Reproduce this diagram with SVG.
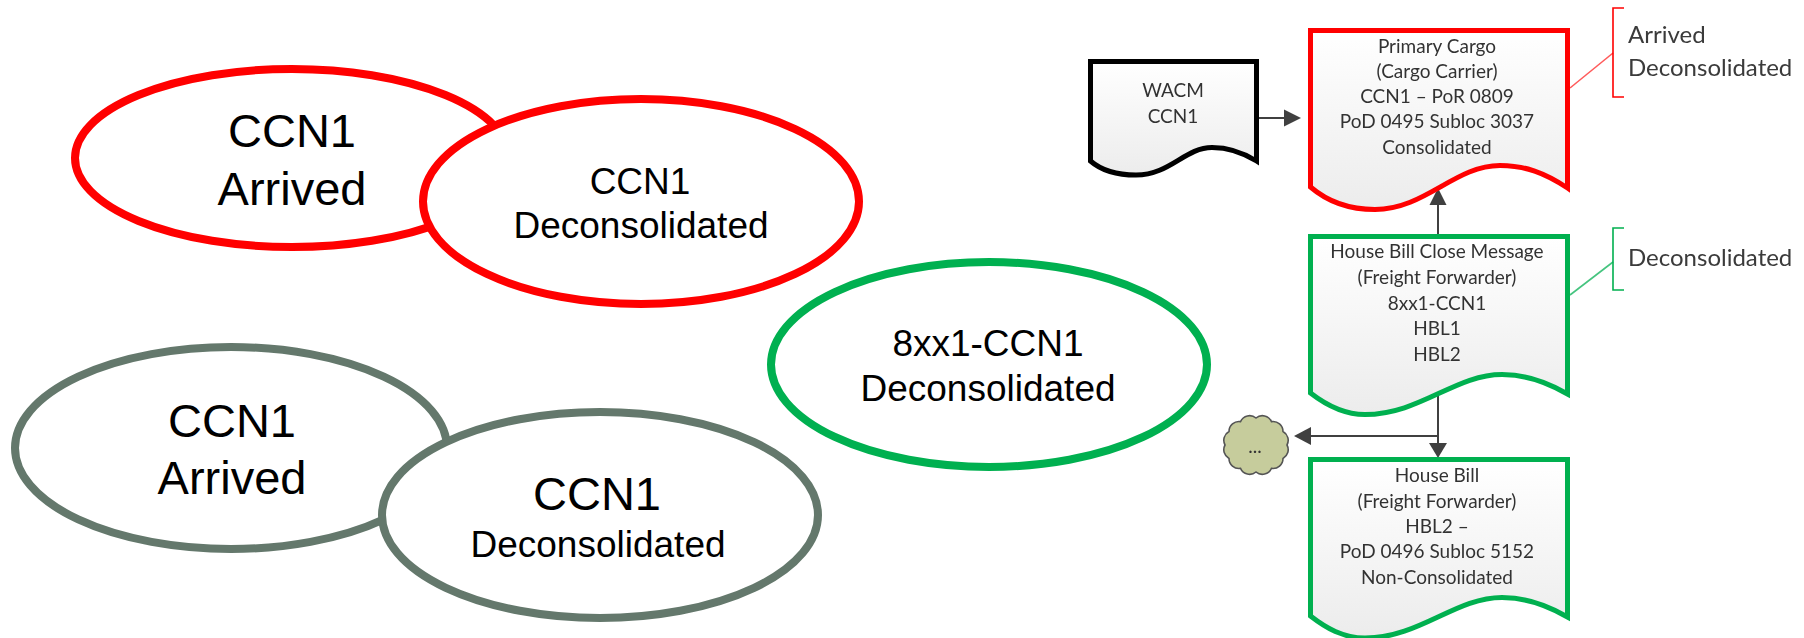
<svg xmlns="http://www.w3.org/2000/svg" width="1804" height="638" viewBox="0 0 1804 638">
<style>
.el{fill:#fff;stroke-width:8}
.big{font:47px "Liberation Sans",Arial,sans-serif;fill:#000;text-anchor:middle}
.mid{font:37px "Liberation Sans",Arial,sans-serif;fill:#000;text-anchor:middle}
.doc{fill:url(#docfill);stroke-width:5;stroke-linejoin:miter}
.dt{font:19px Lato,"Open Sans",sans-serif;fill:#333;text-anchor:middle}
.lab{font:24px Lato,"Open Sans",sans-serif;fill:#3a3a3a}
.red{stroke:#ff0000}.green{stroke:#00b050}.grey{stroke:#64786c}.black{stroke:#000}
.con{fill:none;stroke:#404040;stroke-width:2}
.head{fill:#404040;stroke:none}
.br{fill:none;stroke-width:1.6}
</style>
<defs>
<linearGradient id="docfill" x1="0" y1="0" x2="0" y2="1"><stop offset="0" stop-color="#ffffff"/><stop offset="1" stop-color="#ececec"/></linearGradient>
<filter id="soft" x="-5%" y="-5%" width="110%" height="110%"><feGaussianBlur stdDeviation="0.45"/></filter>
</defs>
<rect width="1804" height="638" fill="#fff"/>
<g id="red-arrived"><ellipse class="el red" cx="292" cy="158" rx="217" ry="89"/><text class="big" x="292" y="147">CCN1</text><text class="big" x="292" y="205">Arrived</text></g>
<g id="red-deconsolidated"><ellipse class="el red" cx="641" cy="201.500" rx="218" ry="102.500"/><text class="mid" x="640" y="194">CCN1</text><text class="mid" x="641" y="238">Deconsolidated</text></g>
<g id="grey-arrived"><ellipse class="el grey" cx="231" cy="448" rx="216" ry="101"/><text class="big" x="232" y="437">CCN1</text><text class="big" x="232" y="494">Arrived</text></g>
<g id="grey-deconsolidated"><ellipse class="el grey" cx="600" cy="515" rx="218" ry="103"/><text class="big" x="597" y="510">CCN1</text><text class="mid" x="598" y="557">Deconsolidated</text></g>
<g id="green-deconsolidated"><ellipse class="el green" cx="989" cy="364.500" rx="218" ry="102.500"/><text class="mid" x="988" y="356">8xx1-CCN1</text><text class="mid" x="988" y="401">Deconsolidated</text></g>
<g filter="url(#soft)">
<g id="connectors">
<path class="con" d="M1259 118H1286"/><path class="head" d="M1301 118L1284 109.500V126.500Z"/>
<path class="con" d="M1438 234V202"/><path class="head" d="M1438 188L1429.500 205H1446.500Z"/>
<path class="con" d="M1438 394V445"/><path class="head" d="M1438 458L1429 443H1447Z"/>
<path class="con" d="M1438 436H1309"/><path class="head" d="M1294 436L1311 427V445Z"/>
<path class="br" stroke="#ff5a5a" d="M1570 88L1613 53"/>
<path class="br" stroke="#45c47f" d="M1570 295L1613 262"/>
</g>
<g id="wacm"><path class="doc black" d="M1090.500 61.500H1256.500V161C1242 152 1228 147.500 1212 147.500C1185 147.500 1170 175 1136 175C1118 175 1102 171 1090.500 161Z"/><text class="dt" x="1173" y="97">WACM</text><text class="dt" x="1173" y="123">CCN1</text></g>
<g id="primary-cargo"><path class="doc red" d="M1310.500 30.500H1567.500V188C1545 173 1525 165.500 1500 165.500C1455 165.500 1425 209.500 1375 209.500C1350 209.500 1328 202 1310.500 187Z"/><text class="dt" x="1437" y="53">Primary Cargo</text><text class="dt" x="1437" y="78">(Cargo Carrier)</text><text class="dt" x="1437" y="103">CCN1 – PoR 0809</text><text class="dt" x="1437" y="128">PoD 0495 Subloc 3037</text><text class="dt" x="1437" y="154">Consolidated</text></g>
<g id="house-bill-close"><path class="doc green" d="M1310.500 236.500H1567.500V394C1545 381 1525 374.500 1502 374.500C1455 374.500 1420 414.500 1365 414.500C1343 414.500 1326 405 1310.500 393Z"/><text class="dt" x="1437" y="258">House Bill Close Message</text><text class="dt" x="1437" y="284">(Freight Forwarder)</text><text class="dt" x="1437" y="310">8xx1-CCN1</text><text class="dt" x="1437" y="335">HBL1</text><text class="dt" x="1437" y="361">HBL2</text></g>
<g id="house-bill"><path class="doc green" d="M1310.500 459.500H1567.500V617C1545 604 1525 597.500 1502 597.500C1455 597.500 1420 638 1365 638C1343 638 1326 628 1310.500 616Z"/><text class="dt" x="1437" y="482">House Bill</text><text class="dt" x="1437" y="508">(Freight Forwarder)</text><text class="dt" x="1437" y="533">HBL2 –</text><text class="dt" x="1437" y="558">PoD 0496 Subloc 5152</text><text class="dt" x="1437" y="584">Non-Consolidated</text></g>
<g id="cloud"><path fill="#c6cc9c" stroke="#555" stroke-width="1.6" d="M1287 445A10 10 0 0 1 1283 458.500A10 10 0 0 1 1271.500 468.400A10 10 0 0 1 1256 472A10 10 0 0 1 1240.500 468.400A10 10 0 0 1 1229 458.500A10 10 0 0 1 1225 445A10 10 0 0 1 1229 431.500A10 10 0 0 1 1240.500 421.600A10 10 0 0 1 1256 418A10 10 0 0 1 1271.500 421.600A10 10 0 0 1 1283 431.500A10 10 0 0 1 1287 445Z"/><text class="dt" x="1255" y="453">...</text></g>
<g id="note-red"><path class="br red" d="M1624 8H1613V97H1624"/><text class="lab" x="1628" y="43">Arrived</text><text class="lab" x="1628" y="76">Deconsolidated</text></g>
<g id="note-green"><path class="br green" d="M1624 228H1613V290H1624"/><text class="lab" x="1628" y="266">Deconsolidated</text></g>
</g>
</svg>
